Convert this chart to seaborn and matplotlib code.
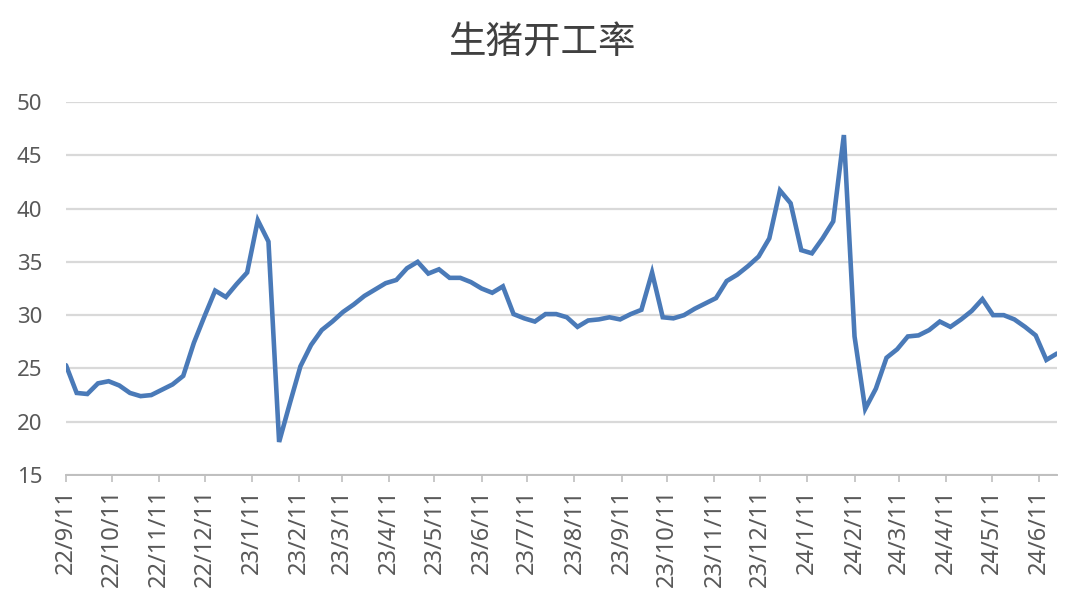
"""Weekly hog farm operating rate chart (生猪开工率)."""

import matplotlib
matplotlib.use("Agg")
import matplotlib.pyplot as plt
import pandas as pd
import seaborn as sns

# weekly readings, first week 2022-09-11
START_DATE = "2022-09-11"
RATE = [
    25.3, 22.7, 22.6, 23.6, 23.8, 23.4, 22.7, 22.4, 22.5, 23.0,
    23.5, 24.3, 27.4, 29.9, 32.3, 31.7, 32.9, 34.0, 38.9, 36.9,
    18.1, 21.7, 25.2, 27.2, 28.6, 29.4, 30.3, 31.0, 31.8, 32.4,
    33.0, 33.3, 34.4, 35.0, 33.9, 34.3, 33.5, 33.5, 33.1, 32.5,
    32.1, 32.7, 30.1, 29.7, 29.4, 30.1, 30.1, 29.8, 28.9, 29.5,
    29.6, 29.8, 29.6, 30.1, 30.5, 34.0, 29.8, 29.7, 30.0, 30.6,
    31.1, 31.6, 33.2, 33.8, 34.6, 35.5, 37.2, 41.7, 40.5, 36.1,
    35.8, 37.2, 38.8, 46.9, 28.0, 21.2, 23.1, 26.0, 26.8, 28.0,
    28.1, 28.6, 29.4, 28.9, 29.6, 30.4, 31.5, 30.0, 30.0, 29.6,
    28.9, 28.1, 25.8, 26.4,
]
TITLE = "生猪开工率"
Y_TICKS = [15, 20, 25, 30, 35, 40, 45, 50]

LINE_COLOR = "#4a7ab8"
GRID_COLOR = "#d9d9d9"
TEXT_COLOR = "#595959"

sns.set_theme(style="white")
plt.rcParams["font.family"] = ["Noto Sans", "Noto Sans CJK SC", "DejaVu Sans"]

df = pd.DataFrame({
    "date": pd.date_range(START_DATE, periods=len(RATE), freq="7D"),
    "rate": RATE,
})

fig = plt.figure(figsize=(10.77, 5.95), dpi=100)
ax = fig.add_axes([66 / 1077, 1 - 475 / 595, (1057 - 66) / 1077, (475 - 102) / 595])

sns.lineplot(data=df, x="date", y="rate", ax=ax, color=LINE_COLOR,
             linewidth=3.3, solid_joinstyle="miter")

# y axis: light horizontal grid, no spine
ax.set_ylim(Y_TICKS[0], Y_TICKS[-1])
ax.set_yticks(Y_TICKS)
ax.yaxis.grid(True, color=GRID_COLOR, linewidth=1.6)
ax.set_axisbelow(True)
ax.tick_params(axis="y", length=0, pad=17, labelsize=16, labelcolor=TEXT_COLOR)

# x axis: monthly ticks on the 11th
ax.set_xlim(df["date"].iloc[0], df["date"].iloc[-1])
months = pd.date_range("2022-09-01", "2024-06-01", freq="MS") + pd.Timedelta(days=10)
ax.set_xticks(months)
ax.set_xticklabels([f"{d.year % 100}/{d.month}/{d.day}" for d in months],
                   rotation=90)
ax.tick_params(axis="x", length=5, width=1.2, color="#bfbfbf", pad=5,
               labelsize=17, labelcolor=TEXT_COLOR, direction="out", bottom=True)
ax.set_xlabel("")
ax.set_ylabel("")

for side in ["top", "right", "left"]:
    ax.spines[side].set_visible(False)
ax.spines["bottom"].set_color("#bfbfbf")
ax.spines["bottom"].set_linewidth(1.4)

fig.text(543 / 1077, 1 - 42 / 595, TITLE, ha="center", va="center",
         fontsize=27, color="#404040", family=["Noto Sans CJK SC", "DejaVu Sans"])

fig.savefig("out.png", dpi=100)
plt.close()
